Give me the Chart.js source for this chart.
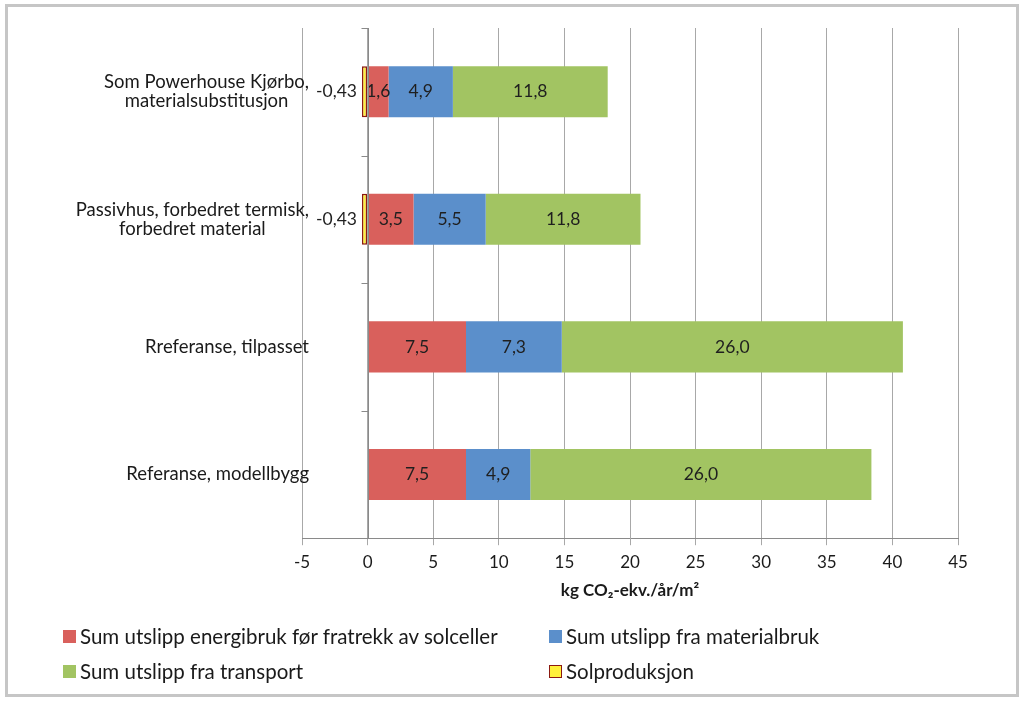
<!DOCTYPE html>
<html>
<head>
<meta charset="utf-8">
<script src="https://cdn.jsdelivr.net/npm/chart.js@4.4.1/dist/chart.umd.min.js"></script>
<style>
  html, body { margin: 0; padding: 0; background: #fff; }
  .wrap { position: relative; width: 1024px; height: 703px; font-family: Lato, 'Open Sans', sans-serif; }
  .frame { position: absolute; left: 5px; top: 4px; width: 1014px; height: 693px; box-sizing: border-box; border: 3px solid #c6c6c6; pointer-events: none; }
  canvas { position: absolute; left: 0; top: 0; }
  .lg-item { position: absolute; display: flex; align-items: center; font-size: 20.5px; color: #1a1a1a; white-space: nowrap; }
  .lg-box { width: 13px; height: 13px; margin-right: 4px; box-sizing: border-box; }
</style>
</head>
<body>
<div class="wrap">
  <canvas id="chart" width="1024" height="703"></canvas>
  <div id="legend"></div>
  <div class="frame"></div>
</div>
<script>
const categories = [
  ['Som Powerhouse Kjørbo,', 'materialsubstitusjon'],
  ['Passivhus, forbedret termisk,', 'forbedret material'],
  ['Rreferanse, tilpasset'],
  ['Referanse, modellbygg']
];
const seriesNames = [
  'Sum utslipp energibruk før fratrekk av solceller',
  'Sum utslipp fra materialbruk',
  'Sum utslipp fra transport',
  'Solproduksjon'
];
const energi = [1.6, 3.5, 7.5, 7.5];
const material = [4.9, 5.5, 7.3, 4.9];
const transport = [11.8, 11.8, 26.0, 26.0];
const solproduksjon = [-0.43, -0.43, null, null];
const xMin = -5, xMax = 45, xStep = 5;
const axisTitle = 'kg CO₂-ekv./år/m²';

const colors = ['#d9605c', '#5b8fcb', '#a2c462', '#fff03a'];
const solBorder = '#8b1a12';
const gridC = '#a8a8a8';
const axisC = '#8a8a8a';
const FONT = 'Lato, "Open Sans", sans-serif';

const fmt = (v, d) => v.toFixed(d).replace('.', ',');

// value labels inside/next to the bars
const barLabels = {
  id: 'barLabels',
  afterDatasetsDraw(chart) {
    const ctx = chart.ctx;
    ctx.save();
    ctx.font = '17.5px ' + FONT;
    ctx.fillStyle = '#1f1f1f';
    ctx.textBaseline = 'middle';
    chart.data.datasets.forEach((ds, di) => {
      const meta = chart.getDatasetMeta(di);
      meta.data.forEach((el, i) => {
        const v = ds.data[i];
        if (v == null) return;
        if (v < 0) {
          ctx.textAlign = 'right';
          ctx.fillText(fmt(v, 2), Math.min(el.x, el.base) - 5, el.y);
        } else {
          ctx.textAlign = 'center';
          ctx.fillText(fmt(v, 1), (el.x + el.base) / 2, el.y);
        }
      });
    });
    ctx.restore();
  }
};

// vertical axis at zero plus the category labels
const catAxis = {
  id: 'catAxis',
  afterDraw(chart) {
    const ctx = chart.ctx, xs = chart.scales.x, ys = chart.scales.y, a = chart.chartArea;
    const x0 = Math.round(xs.getPixelForValue(0)) + 0.5;
    ctx.save();
    ctx.strokeStyle = axisC;
    ctx.lineWidth = 1;
    ctx.beginPath();
    ctx.moveTo(x0, a.top);
    ctx.lineTo(x0, a.bottom);
    const step = (a.bottom - a.top) / categories.length;
    for (let k = 0; k <= categories.length; k++) {
      const y = Math.round(a.top + k * step) + 0.5;
      ctx.moveTo(x0 - 7, y);
      ctx.lineTo(x0, y);
    }
    ctx.stroke();

    ctx.font = '18.5px ' + FONT;
    ctx.fillStyle = '#1a1a1a';
    ctx.textAlign = 'center';
    ctx.textBaseline = 'middle';
    const right = 309, lh = 19.5;
    categories.forEach((lines, i) => {
      const w = Math.max(...lines.map(l => ctx.measureText(l).width));
      const cx = right - w / 2;
      const cy = ys.getPixelForValue(i);
      lines.forEach((l, j) => ctx.fillText(l, cx, cy + (j - (lines.length - 1) / 2) * lh));
    });
    ctx.restore();
  }
};

const datasets = [energi, material, transport, solproduksjon].map((d, i) => ({
  label: seriesNames[i],
  data: d,
  backgroundColor: colors[i],
  borderColor: i === 3 ? solBorder : colors[i],
  borderWidth: i === 3 ? 1.5 : 0,
  borderSkipped: false,
  barPercentage: 0.5,
  categoryPercentage: 0.8
}));

new Chart(document.getElementById('chart'), {
  type: 'bar',
  data: { labels: categories.map(c => c.join(' ')), datasets },
  options: {
    indexAxis: 'y',
    responsive: false,
    animation: false,
    layout: { padding: { left: 302, right: 66, top: 28, bottom: 95 } },
    plugins: { legend: { display: false }, tooltip: { enabled: false } },
    scales: {
      y: { stacked: true, display: false },
      x: {
        stacked: true,
        min: xMin, max: xMax,
        ticks: { stepSize: xStep, color: '#1a1a1a', font: { family: FONT, size: 17 }, padding: 7 },
        grid: { color: gridC, tickLength: 7, tickColor: gridC },
        border: { color: axisC },
        title: { display: true, text: axisTitle, color: '#1a1a1a', font: { family: FONT, size: 17, weight: 'bold' }, padding: { top: 1, bottom: 7 } }
      }
    }
  },
  plugins: [barLabels, catAxis]
});

// legend, two columns
const legendPos = [[63, 637], [549, 637], [63, 672], [549, 672]];
const lg = document.getElementById('legend');
seriesNames.forEach((n, i) => {
  const it = document.createElement('div');
  it.className = 'lg-item';
  it.style.left = legendPos[i][0] + 'px';
  it.style.top = (legendPos[i][1] - 13) + 'px';
  const box = document.createElement('span');
  box.className = 'lg-box';
  box.style.background = colors[i];
  if (i === 3) box.style.border = '1.5px solid ' + solBorder;
  it.appendChild(box);
  it.appendChild(document.createTextNode(n));
  lg.appendChild(it);
});
</script>
</body>
</html>
